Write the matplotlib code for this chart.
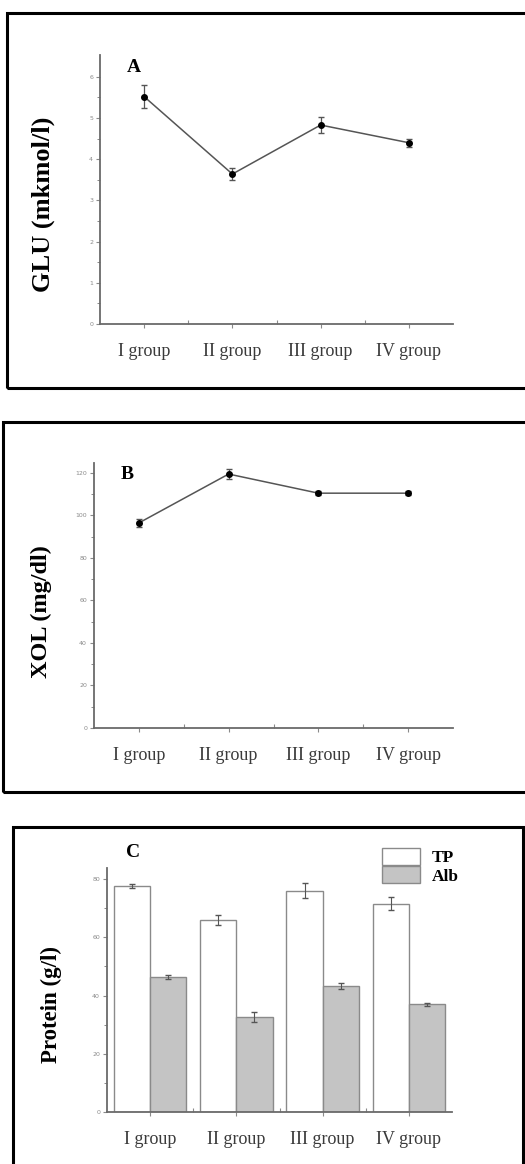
import numpy as np
import matplotlib
matplotlib.use("Agg")
from matplotlib import pyplot as plt
from matplotlib.patches import Rectangle

# data
groups = ["I group", "II group", "III group", "IV group"]
glu = [5.52, 3.64, 4.83, 4.40]
glu_err = [0.28, 0.15, 0.20, 0.10]
xol = [96.5, 119.5, 110.5, 110.5]
xol_err = [2.0, 2.5, 1.0, 1.0]
tp = [77.6, 65.9, 76.0, 71.6]
tp_err = [0.7, 1.8, 2.5, 2.3]
alb = [46.5, 32.7, 43.4, 37.0]
alb_err = [0.7, 1.8, 1.0, 0.5]

W, H = 525, 1164
SERIF = ["Liberation Serif", "DejaVu Serif"]
AX_COL = "#6a6a6a"
TICK_COL = "#8a8a8a"

fig = plt.figure(figsize=(W / 100, H / 100), dpi=100)


def px_axes(left, right, top, bottom):
    # axes placed by pixel edges (y measured from top)
    return fig.add_axes([left / W, 1 - bottom / H, (right - left) / W, (bottom - top) / H])


def px_box(left, right, top, bottom):
    fig.patches.append(Rectangle((left / W, 1 - bottom / H), (right - left) / W, (bottom - top) / H,
                                 transform=fig.transFigure, fill=False, ec="black", lw=2.2))


def style(ax, ylim, major, minor, ylabel, letter, lab_size, lab_xy):
    x = np.arange(1, len(groups) + 1)
    ax.set_xlim(0.5, 4.5)
    ax.set_ylim(*ylim)
    ax.set_yticks(major)
    ax.set_yticks(minor, minor=True)
    ax.set_xticks(x)
    ax.set_xticks([1.5, 2.5, 3.5], minor=True)
    ax.set_xticklabels(groups, family=SERIF, fontsize=13, color="#3a3a3a")
    for s in ["top", "right"]:
        ax.spines[s].set_visible(False)
    for s in ["left", "bottom"]:
        ax.spines[s].set_color(AX_COL)
        ax.spines[s].set_linewidth(1.3)
    ax.tick_params(axis="y", which="major", direction="out", length=3, width=0.8,
                   color=TICK_COL, labelsize=4.5, labelcolor=TICK_COL, pad=2)
    ax.tick_params(axis="y", which="minor", direction="out", length=2, width=0.7, color=TICK_COL)
    ax.tick_params(axis="x", which="major", direction="out", length=3, width=0.8,
                   color=TICK_COL, pad=11)
    ax.tick_params(axis="x", which="minor", direction="in", length=3, width=0.8, color=TICK_COL)
    ax.set_ylabel(ylabel, family=SERIF, fontweight="bold", fontsize=lab_size)
    ax.yaxis.set_label_coords(*lab_xy)
    ax.text(0.075, 0.955, letter, transform=ax.transAxes, family=SERIF, fontweight="bold",
            fontsize=14, va="center", ha="left")
    return x


# panel A
px_box(7, 530, 13, 388)
axA = px_axes(100, 453, 55, 324)
x = style(axA, (0, 6.53), np.arange(0, 7, 1), np.arange(0.5, 6.5, 1),
          "GLU (mkmol/l)", "A", 19, (-0.127, 0.446))
axA.errorbar(x, glu, yerr=glu_err, color="#555555", lw=1.1, marker="o", ms=4,
             mfc="black", mec="black", ecolor="#555555", elinewidth=0.9, capsize=2)

# panel B
px_box(3, 530, 422, 792)
axB = px_axes(94, 453, 463, 728)
x = style(axB, (0, 124.7), np.arange(0, 121, 20), np.arange(10, 121, 20),
          "XOL (mg/dl)", "B", 17.5, (-0.117, 0.438))
axB.errorbar(x, xol, yerr=xol_err, color="#555555", lw=1.1, marker="o", ms=4,
             mfc="black", mec="black", ecolor="#555555", elinewidth=0.9, capsize=2)

# panel C
px_box(13, 523, 827, 1180)
axC = px_axes(107, 452, 868, 1112)
x = style(axC, (0, 83.8), np.arange(0, 81, 20), np.arange(10, 81, 20),
          "Protein (g/l)", "C", 16.5, (-0.13, 0.44))
bw = 0.42
axC.bar(x - bw / 2, tp, bw, yerr=tp_err, color="white", edgecolor="#8a8a8a", lw=1.0,
        error_kw=dict(ecolor="#555555", elinewidth=0.8, capsize=2), label="TP")
axC.bar(x + bw / 2, alb, bw, yerr=alb_err, color="#c4c4c4", edgecolor="#8a8a8a", lw=1.0,
        error_kw=dict(ecolor="#555555", elinewidth=0.8, capsize=2), label="Alb")
axC.texts[0].set_position((0.055, 1.065))
leg = axC.legend(loc="upper right", bbox_to_anchor=(1.04, 1.11), frameon=False,
                 prop=dict(family=SERIF, weight="bold", size=12.5), handlelength=2.2,
                 handleheight=1.1, labelspacing=0.0, handletextpad=0.7, borderaxespad=0)

fig.savefig("out.png", dpi=100, facecolor="white")
